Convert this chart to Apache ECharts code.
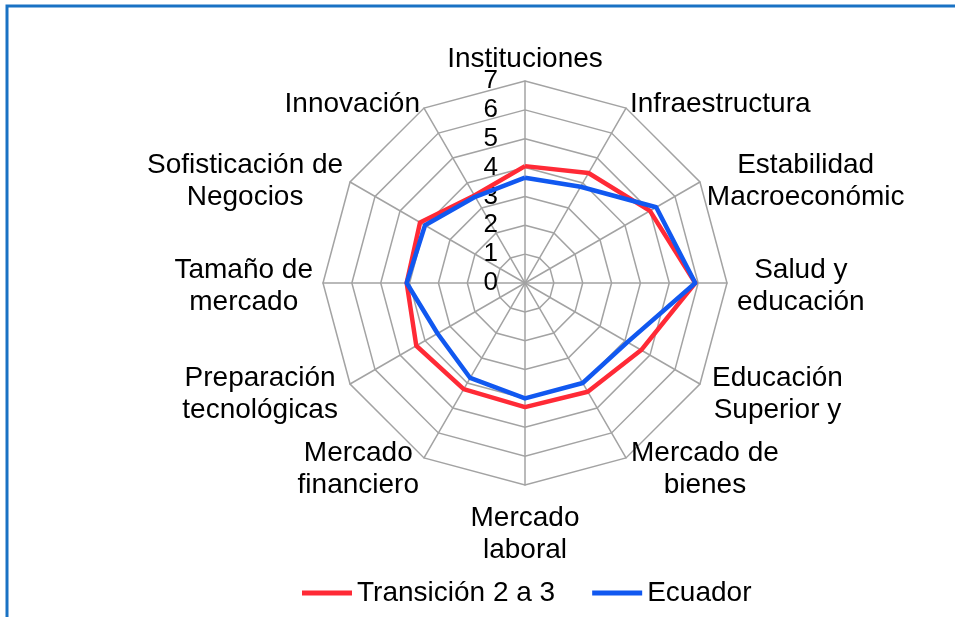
<!DOCTYPE html>
<html><head><meta charset="utf-8">
<script src="https://cdn.jsdelivr.net/npm/echarts@6/dist/echarts.min.js"></script>
<style>html,body{margin:0;padding:0;background:#fff}#c{width:955px;height:617px}</style>
</head><body><div id="c"></div>
<script>
const categories = ['Instituciones','Infraestructura','Estabilidad\nMacroeconómic','Salud y\neducación','Educación\nSuperior y','Mercado de\nbienes','Mercado\nlaboral','Mercado\nfinanciero','Preparación\ntecnológicas','Tamaño de\nmercado','Sofisticación de\nNegocios','Innovación'];
const transicion = [4.05, 4.4, 5.0, 5.9, 4.65, 4.35, 4.3, 4.25, 4.35, 4.1, 4.2, 3.5];
const ecuador    = [3.65, 3.85, 5.25, 5.9, 4.1, 4.0, 4.0, 3.8, 3.5, 4.1, 4.0, 3.45];
const seriesNames = ['Transición 2 a 3', 'Ecuador'];
const tickLabels = ['0','1','2','3','4','5','6','7'];
const axisMin = 0, axisMax = 7;

// ECharts radar goes counter-clockwise; reorder so the categories run clockwise
const cw = arr => [arr[0]].concat(arr.slice(1).reverse());

const FONT = '"Liberation Sans", Arial, sans-serif';
const GRID = '#a3a3a3';
const RED = '#ff2a36', BLUE = '#1158f0';
// label distance from the outer ring, per position (clockwise from top)
const nameGaps = [6, 8, 8, 10, 14, 10, 11, 10, 14, 10, 8, 8];

const gapsCw = cw(nameGaps);
const indicators = cw(categories).map((name, i) => ({
  name: name, min: axisMin, max: axisMax, nameGap: gapsCw[i],
  nameMoveOverlap: false,
  axisLabel: { show: i === 0 }
}));

const chart = echarts.init(document.getElementById('c'), null, {renderer: 'canvas'});
chart.setOption({
  animation: false,
  backgroundColor: '#fff',
  graphic: [{
    type: 'polyline', silent: true,
    shape: { points: [[7, 617], [7, 6], [955, 6]] },
    style: { stroke: '#1a72c4', lineWidth: 3, fill: null }
  }],
  legend: {
    data: seriesNames.map(n => ({ name: n, icon: 'rect' })),
    left: 297, top: 574,
    itemWidth: 50, itemHeight: 5, itemGap: 37,
    textStyle: { color: '#000', fontSize: 28, fontFamily: FONT }
  },
  radar: {
    center: [525, 283], radius: 202,
    startAngle: 90, shape: 'polygon', splitNumber: 7,
    indicator: indicators,
    nameGap: 14,
    nameMoveOverlap: false,
    axisName: {
      color: '#000', fontSize: 28, fontFamily: FONT, lineHeight: 32,
      padding: [6, 0, 0, 0],
      formatter: name => name.split('\n').map(s => '{c|' + s + '}').join('\n'),
      rich: { c: { align: 'center', color: '#000', fontSize: 28, fontFamily: FONT, lineHeight: 32 } }
    },
    axisLabel: {
      show: false, color: '#000', fontSize: 26, fontFamily: FONT, margin: 27,
      padding: [4, 0, 0, 0],
      formatter: v => tickLabels[Math.round(v)] ?? ''
    },
    splitLine: { lineStyle: { color: GRID, width: 1.5 } },
    axisLine: { lineStyle: { color: GRID, width: 1.5 } },
    splitArea: { show: false },
    axisTick: { show: false }
  },
  series: [{
    type: 'radar', symbol: 'none',
    data: [
      { name: seriesNames[0], value: cw(transicion),
        lineStyle: { color: RED, width: 4.5 }, itemStyle: { color: RED } },
      { name: seriesNames[1], value: cw(ecuador),
        lineStyle: { color: BLUE, width: 4.5 }, itemStyle: { color: BLUE } }
    ]
  }]
});
</script></body></html>
